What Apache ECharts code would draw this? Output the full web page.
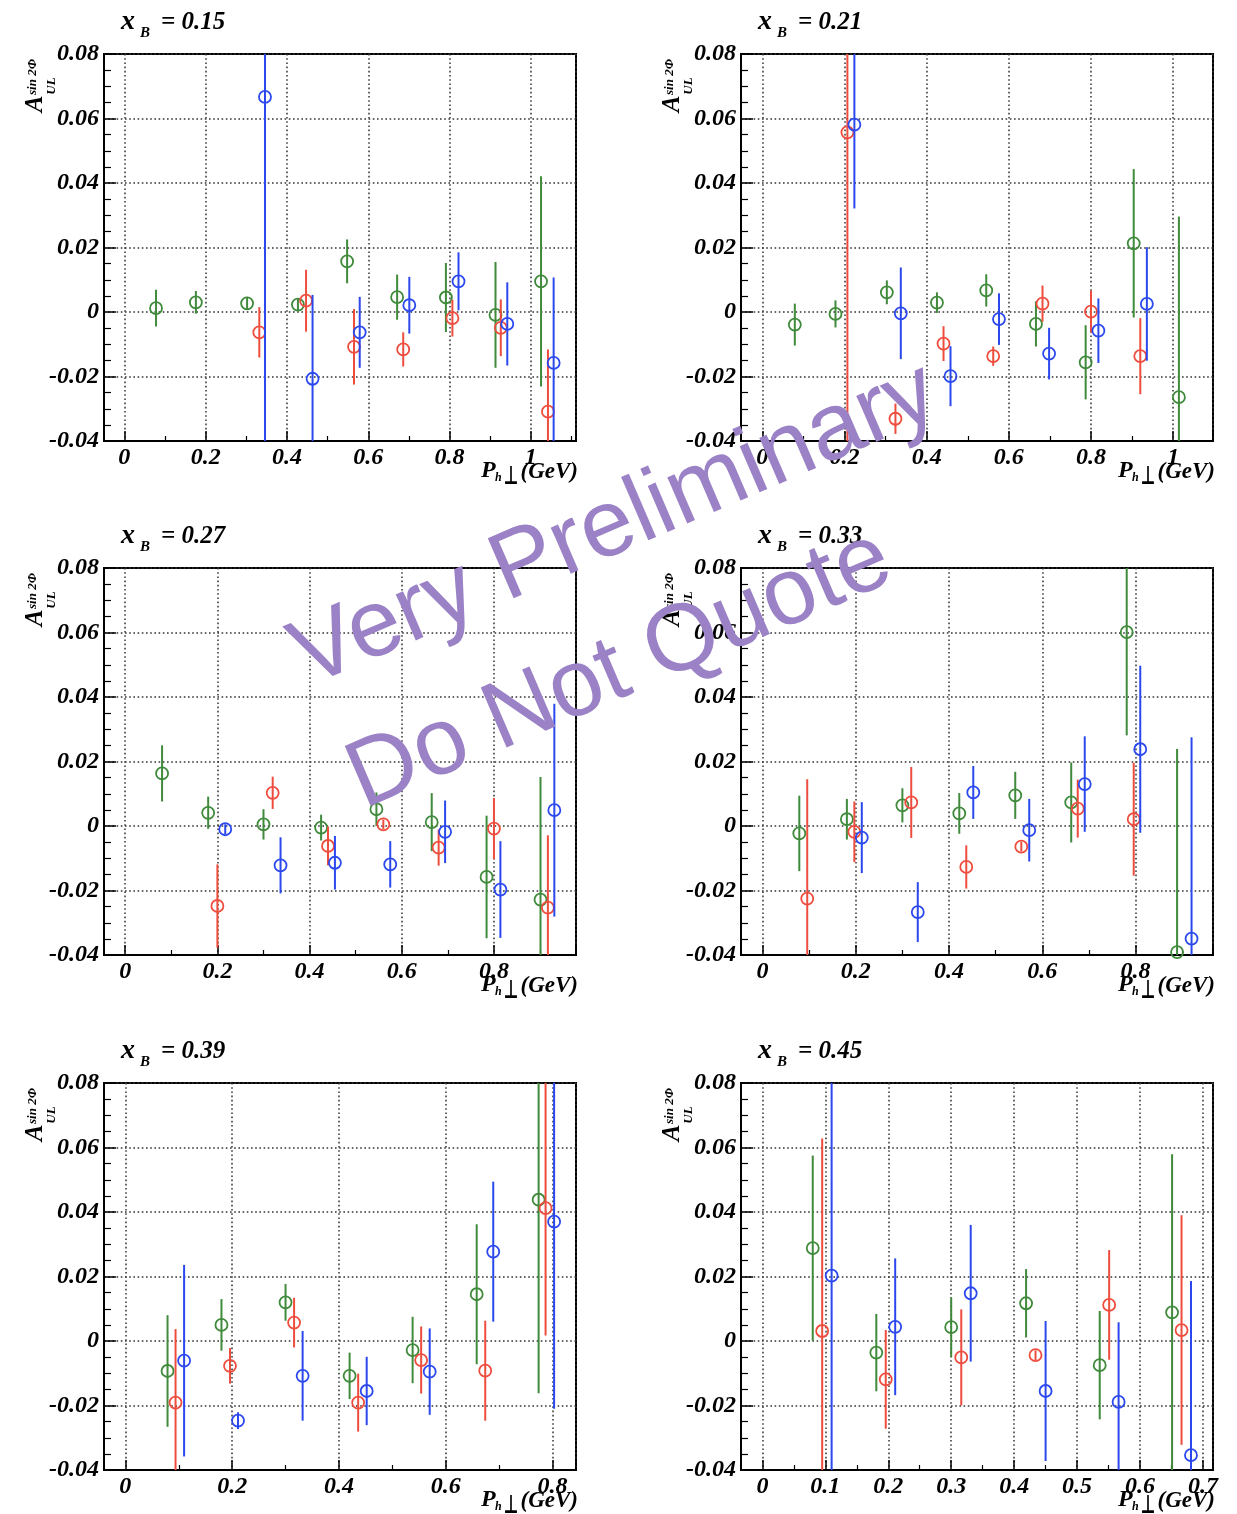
<!DOCTYPE html>
<html>
<head>
<meta charset="utf-8">
<script src="https://cdn.jsdelivr.net/npm/echarts@6/dist/echarts.min.js"></script>
<style>
  html, body { margin: 0; padding: 0; background: #fff; }
  #chart { width: 1237px; height: 1514px; }
</style>
</head>
<body>
<div id="chart"></div>
<script>
// x_B bins, one panel each
const xBins = ['0.15', '0.21', '0.27', '0.33', '0.39', '0.45'];

// Each point: [P_h_perp (GeV), A_UL^{sin 2phi}, stat. error]
const green015 = [[0.078, 0.0012, 0.0057], [0.176, 0.0030, 0.0035], [0.302, 0.0027, 0.0020], [0.427, 0.0023, 0.0020], [0.548, 0.0157, 0.0068], [0.671, 0.0046, 0.0070], [0.791, 0.0045, 0.0107], [0.913, -0.0009, 0.0164], [1.025, 0.0095, 0.0326]];
const red015   = [[0.332, -0.0063, 0.0078], [0.447, 0.0035, 0.0096], [0.565, -0.0108, 0.0117], [0.686, -0.0116, 0.0053], [0.807, -0.0019, 0.0057], [0.926, -0.0049, 0.0088], [1.042, -0.0309, 0.0193]];
const blue015  = [[0.346, 0.0667, 0.15], [0.463, -0.0207, 0.026], [0.579, -0.0063, 0.0110], [0.701, 0.0021, 0.0088], [0.822, 0.0095, 0.0090], [0.942, -0.0037, 0.0129], [1.056, -0.0158, 0.0265]];

const green021 = [[0.079, -0.0039, 0.0065], [0.178, -0.0006, 0.0042], [0.303, 0.0061, 0.0037], [0.425, 0.0029, 0.0032], [0.545, 0.0067, 0.0050], [0.666, -0.0037, 0.0070], [0.787, -0.0156, 0.0115], [0.904, 0.0213, 0.0230], [1.014, -0.0264, 0.0560]];
const red021   = [[0.207, 0.0557, 0.2], [0.324, -0.0331, 0.0047], [0.441, -0.0098, 0.0054], [0.562, -0.0137, 0.0030], [0.682, 0.0026, 0.0056], [0.800, 0.0001, 0.0065], [0.920, -0.0137, 0.0118]];
const blue021  = [[0.224, 0.0581, 0.0260], [0.337, -0.0004, 0.0142], [0.458, -0.0199, 0.0093], [0.576, -0.0022, 0.0080], [0.698, -0.0129, 0.0080], [0.818, -0.0058, 0.0100], [0.936, 0.0025, 0.0176]];

const green027 = [[0.080, 0.0163, 0.0087], [0.180, 0.0041, 0.0050], [0.300, 0.0005, 0.0047], [0.425, -0.0005, 0.0040], [0.545, 0.0052, 0.0052], [0.665, 0.0012, 0.0090], [0.784, -0.0158, 0.0190], [0.901, -0.0228, 0.0380]];
const red027   = [[0.200, -0.0248, 0.0129], [0.320, 0.0103, 0.0050], [0.440, -0.0062, 0.0060], [0.560, 0.0005, 0.0015], [0.680, -0.0067, 0.0056], [0.800, -0.0008, 0.0095], [0.917, -0.0253, 0.0224]];
const blue027  = [[0.217, -0.0010, 0.0015], [0.337, -0.0122, 0.0087], [0.455, -0.0114, 0.0083], [0.575, -0.0119, 0.0072], [0.694, -0.0018, 0.0097], [0.814, -0.0197, 0.0150], [0.931, 0.0049, 0.0330]];

const green033 = [[0.079, -0.0023, 0.0117], [0.181, 0.0021, 0.0063], [0.300, 0.0064, 0.0053], [0.422, 0.0039, 0.0063], [0.542, 0.0095, 0.0073], [0.662, 0.0073, 0.0124], [0.781, 0.0601, 0.0320], [0.889, -0.0391, 0.0630]];
const red033   = [[0.096, -0.0225, 0.0370], [0.197, -0.0018, 0.0094], [0.319, 0.0073, 0.0110], [0.437, -0.0127, 0.0067], [0.555, -0.0064, 0.0015], [0.676, 0.0054, 0.0090], [0.796, 0.0021, 0.0175]];
const blue033  = [[0.213, -0.0036, 0.0110], [0.333, -0.0267, 0.0093], [0.452, 0.0104, 0.0082], [0.572, -0.0013, 0.0097], [0.691, 0.0130, 0.0148], [0.810, 0.0238, 0.0259], [0.920, -0.0349, 0.0624]];

const green039 = [[0.079, -0.0093, 0.0173], [0.180, 0.0050, 0.0080], [0.300, 0.0120, 0.0057], [0.420, -0.0108, 0.0072], [0.538, -0.0028, 0.0103], [0.658, 0.0145, 0.0217], [0.774, 0.0438, 0.0600]];
const red039   = [[0.094, -0.0191, 0.0228], [0.196, -0.0077, 0.0055], [0.316, 0.0057, 0.0077], [0.436, -0.0191, 0.0090], [0.554, -0.0059, 0.0104], [0.674, -0.0092, 0.0155], [0.787, 0.0412, 0.0395]];
const blue039  = [[0.110, -0.0061, 0.0297], [0.211, -0.0247, 0.0026], [0.332, -0.0108, 0.0139], [0.452, -0.0155, 0.0106], [0.570, -0.0095, 0.0134], [0.689, 0.0277, 0.0217], [0.803, 0.0370, 0.0580]];

const green045 = [[0.080, 0.0288, 0.0287], [0.181, -0.0036, 0.0120], [0.300, 0.0043, 0.0092], [0.419, 0.0117, 0.0106], [0.536, -0.0075, 0.0168], [0.651, 0.0089, 0.0490]];
const red045   = [[0.095, 0.0031, 0.0597], [0.196, -0.0119, 0.0153], [0.316, -0.0051, 0.0149], [0.434, -0.0044, 0.0015], [0.551, 0.0112, 0.0170], [0.666, 0.0034, 0.0356]];
const blue045  = [[0.110, 0.0203, 0.0650], [0.211, 0.0044, 0.0212], [0.331, 0.0148, 0.0212], [0.450, -0.0155, 0.0217], [0.566, -0.0189, 0.0247], [0.681, -0.0354, 0.0540]];

// Axis ranges
const yMin = -0.04, yMax = 0.08, yStep = 0.02;
const xRanges = [[-0.050, 1.111], [-0.052, 1.097], [-0.046, 0.978], [-0.046, 0.966], [-0.040, 0.844], [-0.034, 0.716]];
const xSteps = [0.2, 0.2, 0.2, 0.2, 0.2, 0.1];

const panelData = [
  [green015, red015, blue015],
  [green021, red021, blue021],
  [green027, red027, blue027],
  [green033, red033, blue033],
  [green039, red039, blue039],
  [green045, red045, blue045]
];

const colors = ['#3f8a3b', '#ee4d3e', '#2a48ee'];
const serif = '"Liberation Serif", "DejaVu Serif", serif';

// Frame placement: two columns, three rows
const colLeft = [104, 741];
const rowTop = [54, 568, 1083];
const frameW = 472, frameH = 387;

function renderPoint(color) {
  return function (params, api) {
    const x = api.value(0), y = api.value(1), e = api.value(2);
    const c = api.coord([x, y]);
    const lo = api.coord([x, y - e]);
    const hi = api.coord([x, y + e]);
    const cs = params.coordSys;
    const top = cs.y, bottom = cs.y + cs.height;
    const y1 = Math.min(Math.max(hi[1], top), bottom);
    const y2 = Math.min(Math.max(lo[1], top), bottom);
    return {
      type: 'group',
      children: [
        { type: 'line', shape: { x1: c[0], y1: y1, x2: c[0], y2: y2 },
          style: { stroke: color, lineWidth: 2 } },
        { type: 'circle', shape: { cx: c[0], cy: c[1], r: 6 },
          style: { fill: 'none', stroke: color, lineWidth: 1.8 } }
      ]
    };
  };
}

const grids = [], xAxes = [], yAxes = [], series = [], graphics = [];
const gridLine = { color: '#333', width: 1.5, type: [1.6, 2.6] };

for (let i = 0; i < 6; i++) {
  const L = colLeft[i % 2];
  const T = rowTop[Math.floor(i / 2)];
  const R = L + frameW, B = T + frameH;

  grids.push({
    left: L, top: T, width: frameW, height: frameH,
    containLabel: false, outerBoundsMode: 'none',
    show: true, borderColor: '#000', borderWidth: 2, backgroundColor: 'transparent'
  });

  const labelStyle = { fontFamily: serif, fontStyle: 'italic', fontWeight: 'bold', fontSize: 24, color: '#000' };

  xAxes.push({
    type: 'value', gridIndex: i,
    min: xRanges[i][0], max: xRanges[i][1],
    minInterval: xSteps[i], maxInterval: xSteps[i],
    axisLine: { show: true, onZero: false, lineStyle: { color: '#000', width: 2 } },
    axisTick: { show: true, inside: true, length: 10, lineStyle: { color: '#000', width: 1.5 } },
    minorTick: { show: true, splitNumber: 2, length: 5, lineStyle: { color: '#000', width: 1.2 } },
    splitLine: { show: true, lineStyle: gridLine },
    axisLabel: Object.assign({ margin: 5, showMinLabel: false, showMaxLabel: false }, labelStyle)
  });

  yAxes.push({
    type: 'value', gridIndex: i,
    min: yMin, max: yMax, interval: yStep,
    axisLine: { show: true, onZero: false, lineStyle: { color: '#000', width: 2 } },
    axisTick: { show: true, inside: true, length: 12, lineStyle: { color: '#000', width: 1.5 } },
    minorTick: { show: true, splitNumber: 4, length: 7, lineStyle: { color: '#000', width: 1.2 } },
    splitLine: { show: true, lineStyle: gridLine },
    axisLabel: Object.assign({ margin: 5 }, labelStyle)
  });

  panelData[i].forEach(function (pts, k) {
    series.push({
      type: 'custom', xAxisIndex: i, yAxisIndex: i,
      dimensions: ['pt', 'asym', 'err'], encode: { x: 0, y: 1 },
      data: pts, renderItem: renderPoint(colors[k]),
      clip: false, silent: true, z: 3 + k
    });
  });

  // panel title: x_B = ...
  const tFont = { fontFamily: serif, fontStyle: 'italic', fontWeight: 'bold', fill: '#000', verticalAlign: 'middle', align: 'left' };
  graphics.push({ type: 'text', x: L + 17, y: T - 32, style: Object.assign({ text: 'x', fontSize: 28 }, tFont) });
  graphics.push({ type: 'text', x: L + 36, y: T - 21, style: Object.assign({ text: 'B', fontSize: 15 }, tFont) });
  graphics.push({ type: 'text', x: L + 57, y: T - 31, style: Object.assign({ text: '= ' + xBins[i], fontSize: 25 }, tFont) });

  // y-axis title A_UL^{sin 2Phi}, rotated
  const rot = Math.PI / 2;
  const yt = { fontFamily: serif, fontStyle: 'italic', fontWeight: 'bold', fill: '#000', verticalAlign: 'middle', align: 'center' };
  graphics.push({ type: 'text', x: L - 68, y: T + 50, rotation: rot, style: Object.assign({ text: 'A', fontSize: 25 }, yt) });
  graphics.push({ type: 'text', x: L - 71, y: T + 23, rotation: rot, style: Object.assign({ text: 'sin 2Φ', fontSize: 13 }, yt) });
  graphics.push({ type: 'text', x: L - 52, y: T + 32, rotation: rot, style: Object.assign({ text: 'UL', fontSize: 13 }, yt) });

  // x-axis title P_h⊥(GeV)
  graphics.push({ type: 'text', x: R + 2, y: B + 31, style: Object.assign({}, tFont, { text: '(GeV)', fontSize: 23, align: 'right' }) });
  graphics.push({ type: 'text', x: R - 95, y: B + 30, style: Object.assign({}, tFont, { text: 'P', fontSize: 24 }) });
  graphics.push({ type: 'text', x: R - 81, y: B + 37, style: Object.assign({}, tFont, { text: 'h', fontSize: 12 }) });
  graphics.push({ type: 'text', x: R - 65, y: B + 36, scaleY: 1.6, style: { text: '⊥', fontFamily: '"DejaVu Sans", sans-serif', fontWeight: 'bold', fontSize: 16, fill: '#000', align: 'center', verticalAlign: 'middle' } });
}

// watermark
const wmAngle = 23.3 * Math.PI / 180;
const wmStyle = { fontFamily: '"Liberation Sans", Arial, sans-serif', fontSize: 95, fill: '#9b81c6', align: 'center', verticalAlign: 'middle' };
graphics.push({ type: 'text', x: 615, y: 526, rotation: wmAngle, z: 100, style: Object.assign({ text: 'Very Preliminary' }, wmStyle) });
graphics.push({ type: 'text', x: 620, y: 670, rotation: wmAngle, z: 100, style: Object.assign({ text: 'Do Not Quote' }, wmStyle) });

const chart = echarts.init(document.getElementById('chart'), null, { renderer: 'canvas' });
chart.setOption({
  animation: false,
  backgroundColor: '#fff',
  grid: grids,
  xAxis: xAxes,
  yAxis: yAxes,
  series: series,
  graphic: graphics
});
</script>
</body>
</html>
